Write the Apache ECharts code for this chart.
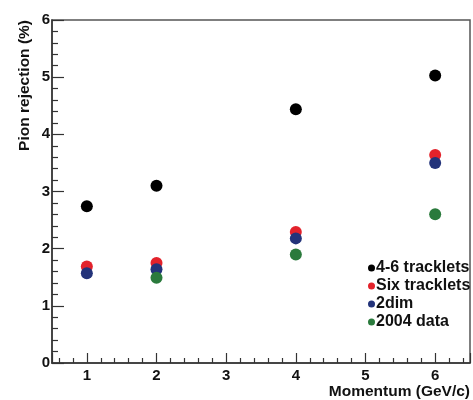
<!DOCTYPE html>
<html>
<head>
<meta charset="utf-8">
<script src="https://cdn.jsdelivr.net/npm/echarts@6/dist/echarts.min.js"></script>
<style>
  html, body { margin: 0; padding: 0; background: #fff; }
  #chart { width: 473px; height: 400px; }
</style>
</head>
<body>
<div id="chart"></div>
<script>
// Momentum points (GeV/c) and pion rejection (%) for each method
const momentumAll = [1, 2, 4, 6];
const momentum2004 = [2, 4, 6];
const tracklets46 = [2.74, 3.10, 4.44, 5.03];
const sixTracklets = [1.69, 1.75, 2.29, 3.64];
const twoDim = [1.57, 1.64, 2.18, 3.50];
const data2004 = [1.49, 1.90, 2.60];

const seriesNames = ['4-6 tracklets', 'Six tracklets', '2dim', '2004 data'];
const seriesColors = ['#000000', '#e3222b', '#23337a', '#2a7a3c'];

const pairs = (xs, ys) => xs.map((x, i) => [x, ys[i]]);
const seriesData = [
  pairs(momentumAll, tracklets46),
  pairs(momentumAll, sixTracklets),
  pairs(momentumAll, twoDim),
  pairs(momentum2004, data2004)
];

const font = 'Liberation Sans, Arial, sans-serif';
const chart = echarts.init(document.getElementById('chart'), null, { renderer: 'canvas' });

chart.setOption({
  backgroundColor: '#ffffff',
  animation: false,
  grid: {
    left: 52, right: 1, top: 20, bottom: 37,
    show: true, borderColor: '#555', borderWidth: 1.5, backgroundColor: 'transparent'
  },
  xAxis: {
    type: 'value',
    min: 0.5, max: 6.5, splitNumber: 6,
    name: 'Momentum (GeV/c)',
    nameLocation: 'end',
    nameGap: 0,
    nameTextStyle: {
      fontFamily: font, fontWeight: 'bold', fontSize: 15.5, color: '#111',
      align: 'right', verticalAlign: 'top', padding: [21, 0, 0, 0]
    },
    axisLine: { show: true, onZero: false, lineStyle: { color: '#333', width: 1.5 } },
    axisTick: { show: true, inside: true, length: 10, lineStyle: { color: '#333', width: 1.2 } },
    minorTick: { show: true, splitNumber: 5, length: 5, lineStyle: { color: '#333', width: 1.2 } },
    splitLine: { show: false },
    axisLabel: {
      fontFamily: font, fontWeight: 'bold', fontSize: 15, color: '#111', margin: 5,
      showMinLabel: false, showMaxLabel: false,
      formatter: v => (Math.abs(v - Math.round(v)) < 1e-6 ? String(Math.round(v)) : '')
    }
  },
  yAxis: {
    type: 'value',
    min: 0, max: 6, interval: 1,
    axisLine: { show: true, lineStyle: { color: '#333', width: 1.5 } },
    axisTick: { show: true, inside: true, length: 12, lineStyle: { color: '#333', width: 1.2 } },
    minorTick: { show: true, splitNumber: 5, length: 6, lineStyle: { color: '#333', width: 1.2 } },
    splitLine: { show: false },
    axisLabel: { fontFamily: font, fontWeight: 'bold', fontSize: 15, color: '#111', margin: 2 }
  },
  legend: {
    orient: 'vertical',
    left: 363, top: 255,
    itemWidth: 7, itemHeight: 7, itemGap: 2,
    icon: 'circle',
    data: seriesNames,
    textStyle: { fontFamily: font, fontWeight: 'bold', fontSize: 16, color: '#111', padding: [0, 0, 0, -4] }
  },
  graphic: [{
    type: 'text',
    x: 25, y: 20,
    rotation: Math.PI / 2,
    style: {
      text: 'Pion rejection (%)',
      font: 'bold 15.5px ' + font,
      fill: '#111',
      textAlign: 'right',
      textVerticalAlign: 'middle'
    }
  }],
  series: seriesNames.map((name, i) => ({
    name,
    type: 'scatter',
    symbol: 'circle',
    symbolSize: 12,
    itemStyle: { color: seriesColors[i], opacity: 1 },
    data: seriesData[i]
  }))
});
</script>
</body>
</html>
